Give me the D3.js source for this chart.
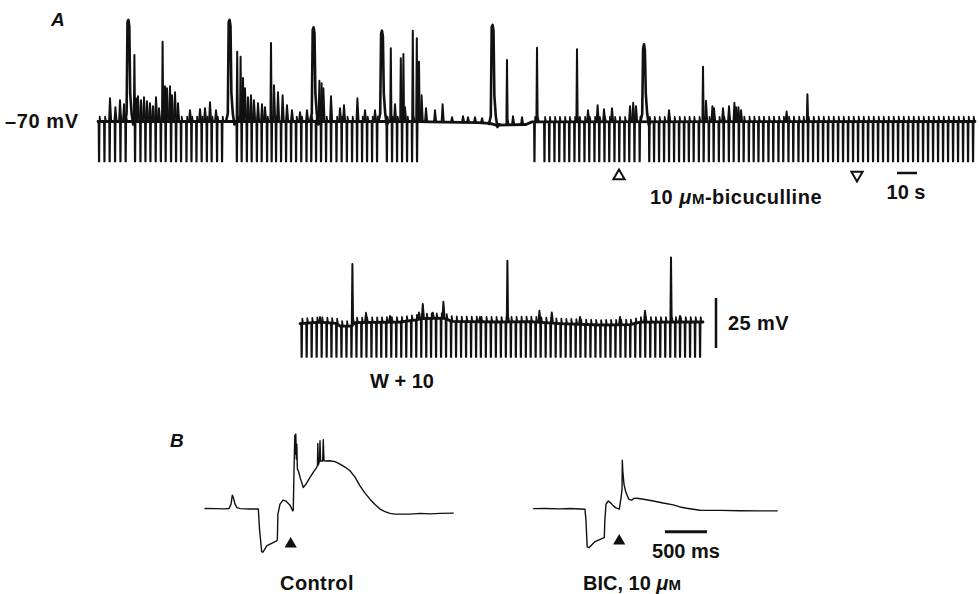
<!DOCTYPE html>
<html lang="en">

<head>
  <script src="https://d3js.org/d3.v7.min.js"></script>
  <meta charset="UTF-8">
  <title>bicuculline traces</title>
  <style>
    body { margin: 0; background: #fff; }
    text { font-family: "Liberation Sans", Arial, sans-serif; font-weight: bold; fill: #111; }
    .trace { fill: none; stroke: #111; stroke-linejoin: round; stroke-linecap: round; }
  </style>
</head>

<body>
  <svg id="fig" width="980" height="594"></svg>
  <script>
    // ---------- A, top sweep: time (s), membrane potential (mV)
    const sweepA = [0, 438.5];
    const baseA = [[0, -70], [160, -70], [166, -70.2], [190, -70.6], [196, -70.9], [199, -71.8], [214, -71.5], [217, -70.2], [438.5, -70]];
    const pulseLevelA = -90;
    const pulsesA = [0.5, 3.2, 5.8, 8.5, 11.2, 13.8,
      18.5, 21.2, 23.7, 26.2, 28.8, 31.4, 33.8, 36.5, 39, 41.5, 44.2, 46.7, 49.2, 51.8, 54.4, 56.8, 59.5, 62,
      69.4, 71.8, 74.4, 76.8, 79.4, 81.8, 84.5, 86.8, 89, 91.5, 94, 96.5, 99, 101.6, 104.2, 106.6,
      109, 111.5, 114, 116.5, 119.2, 121.8, 124.4, 127, 129.5, 132, 134.5, 137, 139.5,
      144.4, 147, 149.5, 152, 154.5, 157, 159.5,
      218.2, 223.2, 225.6, 228.2, 230.6, 233.2, 235.6, 238.2, 240.6, 243.2, 245.6, 248.2, 250.6, 253.2, 255.6, 258.2, 260.6, 263.2, 265.6, 268.2, 270.8,
      275.6, 278, 280.5, 283, 285.5, 288, 290.5, 293, 295.4, 297.8, 300.4, 302.8, 305.4, 307.8, 310.4, 312.8, 315.4, 317.8, 320.4, 322.8,
      325.4, 327.8, 330.2, 332.6, 335.2, 337.6, 340.2, 342.6, 345.2, 347.6, 350.2, 352.5, 355, 357.5, 360, 362.5, 365, 367.5, 370, 372.5,
      375, 377.5, 380, 382.5, 385, 387.5, 390, 392.5, 395, 397.5, 400, 402.5, 405, 407.5, 410, 412.5, 415, 417.5, 420, 422.5,
      425, 427.5, 430, 432.5, 435, 437.5];
    const burstsA = [[15.2, -19.2], [65.8, -19.2], [107.8, -22.9], [142, -24.6], [197.3, -21.7], [273, -31.4]];
    const spikesA = [[18.2, -36.7], [32.3, -30.1], [69.6, -35.1], [71.3, -37.6], [72.5, -48.2], [86.5, -30.7],
      [146.4, -33.4], [151.4, -38.4], [152.7, -36.3], [157.4, -24.6], [159.4, -28.4], [160.5, -40.1],
      [204.5, -39.3], [219.5, -33.1], [239.5, -33.9], [302.5, -42.6], [354.7, -56.4]];
    const pspsA = [[6, -58.3], [8.7, -62.8], [11, -59.3], [13, -61.3],
      [19, -58.3], [20, -57.3], [21.5, -59.3], [23, -57.8], [24.5, -59.8], [26, -60.8], [27.5, -62.3], [29, -57.8], [30.5, -63.3],
      [33.5, -52.3], [34.5, -53.3], [36, -52.3], [37, -56.8], [38.5, -55.3], [40, -60.8],
      [46, -64.3], [51, -63.8], [53.5, -63.3], [56, -60.3], [59, -64.3],
      [73.5, -53.3], [75, -57.8], [76.5, -56.8], [78, -59.3], [80, -60.8], [82, -61.3], [83.5, -62.8],
      [88, -51.8], [90, -55.3], [92.3, -56.8], [94.5, -61.8], [97, -64.3], [101, -65.3], [104.5, -64.3],
      [110.7, -49.6], [111.8, -50.8], [112.7, -53.4], [116.5, -57.3], [121, -63.3], [123, -61.8], [129.7, -58.4], [133.5, -64.3], [138.5, -64.3],
      [148.5, -61.3], [153.5, -62.8], [161.8, -56.8], [164, -63.3], [168.5, -64.3], [172.3, -61.3],
      [177, -67.8], [182.5, -67.3], [185, -67.8], [188.5, -67.8], [192, -68.3], [207.5, -67.3], [212, -67.8],
      [245, -64.3], [249.8, -61.8], [253, -63.8], [257, -63.3], [266, -62.3], [267.6, -60.6], [269, -62.3],
      [285.5, -64.3], [304, -59.6], [307.2, -62.3], [308, -63.3], [312.5, -63.3], [315.5, -62.3], [318.2, -60.6],
      [319, -62.8], [320.2, -62.8], [321.5, -64.3], [344.3, -65]];
    const bicOn = 260.5, bicOff = 379.5;
    const timeBarA = [399.5, 409.5];

    // ---------- A, W + 10 sweep
    const sweepW = [0, 201.5];
    const baseW = [[0, -70.3], [10, -69.6], [18, -70.2], [20, -71.5], [25.5, -71.6], [27, -69.8], [50, -69.5], [58, -68.4],
      [61, -67.8], [72, -67.6], [76, -69.2], [100, -69.5], [115, -69.3], [130, -70.3], [150, -71], [165, -70.8], [170, -69.6], [201.5, -69.5]];
    const pulseLevelW = -87;
    const pulsesW = [0.8, 3.3, 5.8, 8.3, 10.8, 13.3, 15.7, 18.2, 20.7, 23.2, 25.7, 28.2, 30.7, 33.2, 35.7, 38.2, 40.6, 43.1, 45.6, 48.1,
      50.6, 53.1, 55.6, 58.1, 60.6, 63.1, 65.5, 68, 70.5, 73, 75.5, 78, 80.5, 83, 85.5, 88, 90.4, 92.9, 95.4, 97.9,
      100.4, 102.9, 105.4, 107.9, 110.4, 112.9, 115.3, 117.8, 120.3, 122.8, 125.3, 127.8, 130.3, 132.8, 135.3, 137.8, 140.2, 142.7, 145.2, 147.7,
      150.2, 152.7, 155.2, 157.7, 160.2, 162.7, 165.1, 167.6, 170.1, 172.6, 175.1, 177.6, 180.1, 182.6, 185.1, 187.6, 190, 192.5, 195, 197.5, 200];
    const spikesW = [[26.2, -40.5], [103.7, -38.9], [185.5, -37.2]];
    const pspsW = [[10, -67], [33, -64.9], [45, -66.5], [59.5, -64.7], [61.4, -60.5], [66.4, -64.9], [71.7, -59.4], [90, -67],
      [119.7, -63.9], [125.9, -64.7], [140, -67], [160, -67], [172.5, -63.9], [190, -66.5]];
    const voltBarW = [-57.5, -82.5];

    // ---------- B, single sweeps: time (ms), mV
    const controlB = [[0, -69.9], [119, -70], [238, -70.2], [286, -69.9], [310, -67], [325, -61], [339, -63], [357, -67], [381, -69.3],
      [417, -70], [536, -70.3], [635, -70.3], [649, -83.7], [675, -98.8], [690, -99], [735, -94.8], [774, -93.7], [854, -91.5], [861, -91],
      [868, -73.7], [893, -67], [929, -64.3], [964, -65], [1012, -67.7], [1044, -71.5], [1051, -71], [1060, -43.7], [1069, -21],
      [1075, -33.7], [1081, -20.3], [1087, -37], [1093, -27], [1100, -43.7], [1111, -44.8], [1131, -49], [1170, -55.9], [1202, -53.7],
      [1250, -49.2], [1298, -45], [1330, -42.5], [1339, -41], [1343, -26.5], [1349, -41], [1363, -38.3], [1369, -24.8], [1376, -38.3],
      [1401, -38.3], [1408, -24.1], [1417, -38.1], [1440, -38.3], [1488, -38.1], [1548, -38.7], [1607, -40.3], [1667, -42.3],
      [1726, -44.8], [1786, -49], [1845, -54.8], [1905, -59.7], [1964, -63.7], [2024, -67.3], [2083, -70.3], [2143, -72],
      [2202, -73.2], [2262, -73.7], [2321, -73.7], [2440, -73.7], [2560, -73.2], [2679, -73.5], [2798, -73.2], [2956, -73]];
    const bicB = [[0, -70], [137, -69.9], [315, -70.2], [435, -69.9], [494, -70.1], [613, -70.4], [625, -78.2], [639, -95.5], [664, -96],
      [732, -92], [792, -90.5], [843, -89.3], [849, -78], [863, -67.1], [890, -64.9], [923, -66.5], [950, -68.2], [982, -69.5],
      [1021, -70.4], [1033, -66.2], [1042, -62.7], [1054, -57.1], [1057, -37.7], [1063, -44.9], [1077, -53.7], [1095, -58.2],
      [1117, -61.5], [1137, -63.9], [1169, -64.4], [1196, -63.2], [1229, -63.1], [1327, -63.9], [1426, -64.9], [1542, -66.3],
      [1664, -67.5], [1744, -68.9], [1824, -69.8], [1982, -71.1], [2220, -71.2], [2458, -71.4], [2696, -71.5], [2902, -71.5]];
    const stimB = 1020;
    const timeBarB = [1565, 2065];

    const svg = d3.select("#fig");

    // scales (2 px per s and 2 px per mV in A)
    const xA = d3.scaleLinear().domain(sweepA).range([98, 975]);
    const yA = d3.scaleLinear().domain([-70, -20]).range([121.5, 21.5]);
    const xW = d3.scaleLinear().domain(sweepW).range([300, 703]);
    const yW = d3.scaleLinear().domain([-70, -20]).range([323, 223]);
    const xC = d3.scaleLinear().domain([0, 2956]).range([205, 453.3]);
    const xBic = d3.scaleLinear().domain([0, 2902]).range([533.5, 777.3]);
    const yB = d3.scaleLinear().domain([-70, -20]).range([508.6, 433.6]);

    // draw one chart-recorder sweep
    function drawSweep(g, x, y, base, pulses, pulseLevel, bursts, spikes, psps) {
      const baseAt = d3.scaleLinear().domain(base.map(d => d[0])).range(base.map(d => d[1]));
      const line = d3.line().x(d => x(d[0])).y(d => y(d[1]));

      g.append("path").attr("class", "trace").attr("stroke-width", 2.8).attr("d", line(base));

      g.selectAll("path.pulse").data(pulses).join("path")
        .attr("class", "trace pulse").attr("stroke-width", 1.7)
        .attr("d", t => {
          const b = baseAt(t);
          return line([[t - 0.25, b], [t - 0.1, pulseLevel], [t + 0.15, pulseLevel], [t + 0.35, b + 2.5], [t + 0.75, b]]);
        });

      g.selectAll("path.burst").data(bursts).join("path")
        .attr("class", "trace burst").attr("stroke-width", 2.6)
        .attr("d", d => {
          const b = baseAt(d[0]);
          return line([[d[0] - 1.8, b], [d[0] - 0.9, b + 4], [d[0] - 0.45, d[1] - 6 + (d[1] - b) * 0.1], [d[0], d[1]],
            [d[0] + 0.45, d[1] - 3], [d[0] + 0.9, b + 14], [d[0] + 1.6, b + 4], [d[0] + 2.4, b - 1.5], [d[0] + 3.4, b]]);
        });

      g.selectAll("path.spike").data(spikes).join("path")
        .attr("class", "trace spike").attr("stroke-width", 2)
        .attr("d", d => {
          const b = baseAt(d[0]);
          return line([[d[0] - 0.3, b], [d[0], d[1]], [d[0] + 0.3, b + 3], [d[0] + 0.8, b]]);
        });

      g.selectAll("path.psp").data(psps).join("path")
        .attr("class", "trace psp").attr("stroke-width", 1.9)
        .attr("d", d => {
          const b = baseAt(d[0]);
          return line([[d[0] - 0.5, b], [d[0], d[1]], [d[0] + 0.6, b]]);
        });
    }

    const gA = svg.append("g").attr("id", "sweepA");
    drawSweep(gA, xA, yA, baseA, pulsesA, pulseLevelA, burstsA, spikesA, pspsA);

    const gW = svg.append("g").attr("id", "sweepW");
    drawSweep(gW, xW, yW, baseW, pulsesW, pulseLevelW, [], spikesW, pspsW);

    // B traces
    const lineC = d3.line().x(d => xC(d[0])).y(d => yB(d[1]));
    const lineBic = d3.line().x(d => xBic(d[0])).y(d => yB(d[1]));
    svg.append("path").attr("class", "trace").attr("stroke-width", 1.4).attr("d", lineC(controlB));
    svg.append("path").attr("class", "trace").attr("stroke-width", 1.4).attr("d", lineBic(bicB));

    // markers
    const tri = d3.symbol().type(d3.symbolTriangle);
    svg.append("path").attr("d", tri.size(55)())
      .attr("transform", `translate(${xA(bicOn)},176)`)
      .attr("fill", "none").attr("stroke", "#111").attr("stroke-width", 2);
    svg.append("path").attr("d", tri.size(55)())
      .attr("transform", `translate(${xA(bicOff)},175) rotate(180)`)
      .attr("fill", "none").attr("stroke", "#111").attr("stroke-width", 2);
    svg.append("path").attr("d", tri.size(65)())
      .attr("transform", `translate(${xC(stimB)},544)`).attr("fill", "#111");
    svg.append("path").attr("d", tri.size(65)())
      .attr("transform", `translate(${xBic(stimB)},541)`).attr("fill", "#111");

    // scale bars
    svg.append("line").attr("x1", xA(timeBarA[0])).attr("x2", xA(timeBarA[1]))
      .attr("y1", 173).attr("y2", 173).attr("stroke", "#111").attr("stroke-width", 2.5);
    svg.append("line").attr("x1", 716).attr("x2", 716)
      .attr("y1", yW(voltBarW[0])).attr("y2", yW(voltBarW[1])).attr("stroke", "#111").attr("stroke-width", 2.5);
    svg.append("line").attr("x1", xBic(timeBarB[0])).attr("x2", xBic(timeBarB[1]))
      .attr("y1", 531.7).attr("y2", 531.7).attr("stroke", "#111").attr("stroke-width", 3);

    // labels
    svg.append("text").attr("x", 51).attr("y", 26).attr("font-size", 19).attr("font-style", "italic").text("A");
    svg.append("text").attr("x", 170).attr("y", 447).attr("font-size", 19).attr("font-style", "italic").text("B");
    svg.append("text").attr("x", 5).attr("y", 128).attr("font-size", 20).attr("letter-spacing", 0.6).text("\u201370 mV");
    svg.append("text").attr("x", 906).attr("y", 199).attr("font-size", 20).attr("text-anchor", "middle").text("10 s");
    svg.append("text").attr("x", 728).attr("y", 330).attr("font-size", 20).attr("letter-spacing", 0.4).text("25 mV");
    svg.append("text").attr("x", 402).attr("y", 388).attr("font-size", 20).attr("text-anchor", "middle").text("W + 10");
    svg.append("text").attr("x", 317).attr("y", 590).attr("font-size", 20).attr("text-anchor", "middle").attr("letter-spacing", 0.4).text("Control");
    svg.append("text").attr("x", 686).attr("y", 558).attr("font-size", 20).attr("text-anchor", "middle").text("500 ms");

    const bic = svg.append("text").attr("x", 650).attr("y", 204).attr("font-size", 20).attr("letter-spacing", 0.5);
    bic.append("tspan").text("10 ");
    bic.append("tspan").attr("font-style", "italic").text("\u03bc");
    bic.append("tspan").attr("font-size", 15).text("M");
    bic.append("tspan").text("-bicuculline");

    const bicLabel = svg.append("text").attr("x", 583).attr("y", 590).attr("font-size", 20);
    bicLabel.append("tspan").text("BIC, 10 ");
    bicLabel.append("tspan").attr("font-style", "italic").text("\u03bc");
    bicLabel.append("tspan").attr("font-size", 15).text("M");
  </script>
</body>

</html>
